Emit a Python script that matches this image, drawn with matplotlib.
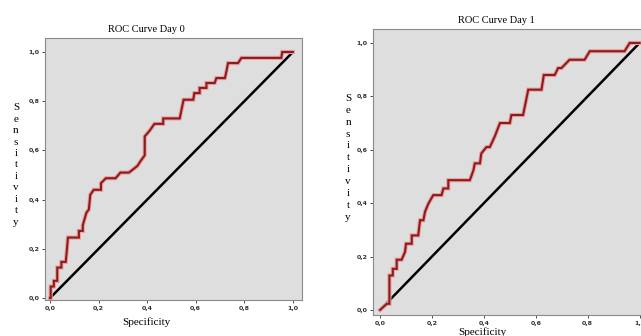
import matplotlib.pyplot as plt

# ROC curve vertices (x axis labelled "Specificity")
day0_x = [0.0, 0.003, 0.003, 0.016, 0.016, 0.03, 0.03, 0.047, 0.047, 0.065, 0.07, 0.074,
          0.119, 0.119, 0.135, 0.135, 0.15, 0.16, 0.166, 0.18, 0.21, 0.21, 0.23, 0.27,
          0.29, 0.325, 0.36, 0.375, 0.39, 0.39, 0.41, 0.43, 0.466, 0.466, 0.534, 0.55,
          0.59, 0.594, 0.616, 0.616, 0.644, 0.644, 0.678, 0.685, 0.72, 0.726, 0.733,
          0.774, 0.788, 0.952, 0.956, 1.0]
day0_y = [0.0, 0.0, 0.047, 0.047, 0.07, 0.07, 0.124, 0.124, 0.147, 0.147, 0.2, 0.246,
          0.246, 0.273, 0.273, 0.296, 0.347, 0.36, 0.42, 0.44, 0.44, 0.467, 0.487, 0.487,
          0.51, 0.51, 0.537, 0.56, 0.58, 0.657, 0.68, 0.708, 0.708, 0.73, 0.73, 0.806,
          0.806, 0.833, 0.833, 0.854, 0.854, 0.874, 0.874, 0.894, 0.894, 0.92, 0.955,
          0.955, 0.976, 0.976, 1.0, 1.0]

day1_x = [0.0, 0.026, 0.036, 0.036, 0.049, 0.049, 0.064, 0.064, 0.083, 0.096, 0.1, 0.122,
          0.122, 0.147, 0.154, 0.167, 0.173, 0.186, 0.205, 0.237, 0.244, 0.263, 0.263,
          0.346, 0.36, 0.365, 0.385, 0.39, 0.41, 0.423, 0.442, 0.462, 0.5, 0.506, 0.551,
          0.571, 0.622, 0.631, 0.673, 0.686, 0.699, 0.73, 0.788, 0.808, 0.942, 0.962, 1.0]
day1_y = [0.0, 0.023, 0.023, 0.129, 0.129, 0.154, 0.154, 0.188, 0.188, 0.217, 0.248,
          0.248, 0.279, 0.279, 0.336, 0.336, 0.367, 0.398, 0.43, 0.43, 0.455, 0.455,
          0.486, 0.486, 0.524, 0.549, 0.549, 0.586, 0.61, 0.61, 0.65, 0.70, 0.70, 0.73,
          0.73, 0.825, 0.825, 0.88, 0.88, 0.906, 0.906, 0.937, 0.937, 0.969, 0.969, 1.0, 1.0]

tick_vals = [0.0, 0.2, 0.4, 0.6, 0.8, 1.0]
tick_labels = ["0,0", "0,2", "0,4", "0,6", "0,8", "1,0"]

serif = "Liberation Serif"
bg = "#dedede"
curve_dark = "#8c1c1c"
curve_halo = "#e8a0a0"

fig = plt.figure(figsize=(6.41, 3.36), dpi=100)

panels = [
    # rect, xlim, ylim, data, title, title pos, xlabel pos, ylabel pos, ylabel spacing
    ([0.070, 0.107, 0.401, 0.780], (-0.021, 1.037), (-0.008, 1.057), (day0_x, day0_y),
     "ROC Curve Day 0", (0.229, 0.911), (0.229, 0.042), (0.025, 0.509), 1.35),
    ([0.582, 0.0625, 0.432, 0.851], (-0.027, 1.04), (-0.019, 1.052), (day1_x, day1_y),
     "ROC Curve Day 1", (0.775, 0.94), (0.752, 0.012), (0.543, 0.53), 1.42),
]

for rect, xl, yl, (xs, ys), title, tpos, xpos, ypos, lsp in panels:
    ax = fig.add_axes(rect)
    ax.set_facecolor(bg)
    ax.plot([0, 1], [0, 1], color="black", lw=1.8, zorder=2)
    ax.plot(xs, ys, color=curve_halo, lw=3.0, solid_joinstyle="miter", zorder=3)
    ax.plot(xs, ys, color=curve_dark, lw=1.5, solid_joinstyle="miter", zorder=4)
    ax.set_xlim(*xl)
    ax.set_ylim(*yl)
    ax.set_xticks(tick_vals)
    ax.set_xticklabels(tick_labels)
    ax.set_yticks(tick_vals)
    ax.set_yticklabels(tick_labels)
    ax.tick_params(labelsize=4.5, length=2, width=0.6, pad=2, colors="#333333")
    for lab in ax.get_xticklabels() + ax.get_yticklabels():
        lab.set_fontweight("bold")
    for s in ax.spines.values():
        s.set_color("#8a8a8a")
        s.set_linewidth(0.8)

    fig.text(tpos[0], tpos[1], title, family=serif, fontsize=7.5, ha="center", va="center")
    fig.text(xpos[0], xpos[1], "Specificity", family=serif, fontsize=8, ha="center", va="center")
    fig.text(ypos[0], ypos[1], "\n".join("Sensitivity"), family=serif, fontsize=8,
             ha="center", va="center", linespacing=lsp)

fig.savefig("out.png", dpi=100)
